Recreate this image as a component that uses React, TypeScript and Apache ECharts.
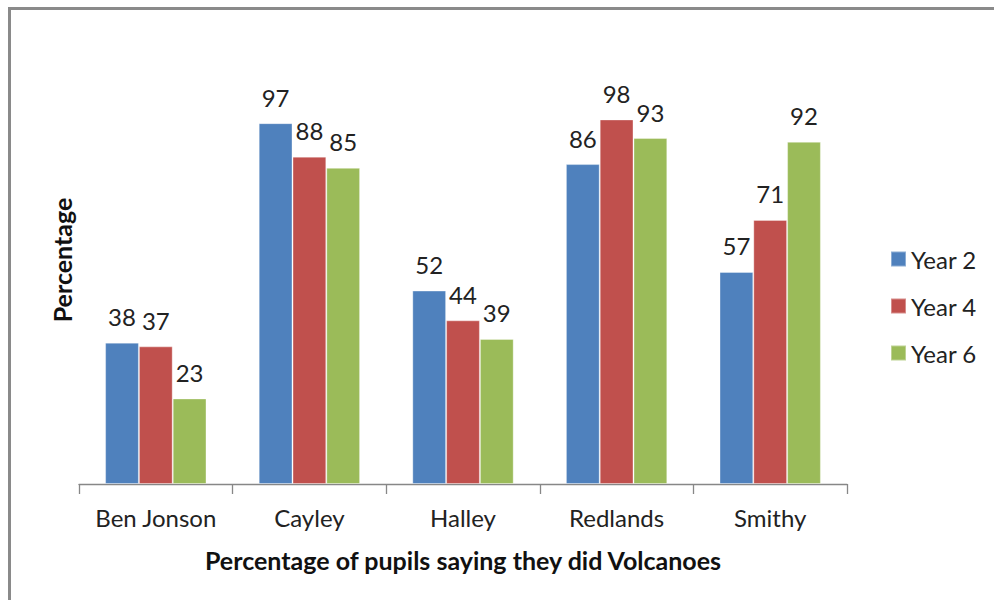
import React, { useEffect, useRef } from "react";
import * as echarts from "echarts";

const categories = ["Ben Jonson", "Cayley", "Halley", "Redlands", "Smithy"];
const seriesNames = ["Year 2", "Year 4", "Year 6"];
const year2 = [38, 97, 52, 86, 57];
const year4 = [37, 88, 44, 98, 71];
const year6 = [23, 85, 39, 93, 92];
const colors = ["#4F81BD", "#C0504D", "#9BBB59"];
const xTitle = "Percentage of pupils saying they did Volcanoes";
const yTitle = "Percentage";

const FONT = "Lato";

export default function App() {
  const ref = useRef<HTMLDivElement>(null);
  useEffect(() => {
    document.body.style.margin = "0";
    const chart = echarts.init(ref.current!, null, { renderer: "svg" });
    const data = [year2, year4, year6];
    chart.setOption({
      animation: false,
      backgroundColor: "#ffffff",
      textStyle: { fontFamily: FONT },
      grid: { left: 79, right: 147, top: 112, bottom: 116 },
      legend: {
        orient: "vertical",
        left: 885,
        top: 242,
        itemWidth: 15,
        itemHeight: 15,
        itemGap: 23,
        icon: "rect",
        data: seriesNames,
        textStyle: { fontSize: 24, color: "#222", fontFamily: FONT },
      },
      xAxis: {
        type: "category",
        data: categories,
        axisLine: { show: true, lineStyle: { color: "#878787", width: 1.3 } },
        axisTick: { show: true, interval: 0, length: 10, lineStyle: { color: "#878787", width: 1.3 } },
        axisLabel: { interval: 0, fontSize: 24, color: "#222", margin: 21, fontFamily: FONT },
        name: xTitle,
        nameLocation: "middle",
        nameGap: 63,
        nameTextStyle: { fontSize: 25, fontWeight: "bold", color: "#111", fontFamily: FONT },
      },
      yAxis: {
        type: "value",
        min: 0,
        max: 100,
        show: false,
        splitLine: { show: false },
      },
      graphic: [
        {
          type: "rect",
          shape: { x: 9.5, y: 8.5, width: 1100, height: 1100 },
          style: { fill: "none", stroke: "#8a8a8a", lineWidth: 3 },
          silent: true,
        },
        {
          type: "text",
          x: 62,
          y: 260,
          rotation: Math.PI / 2,
          style: {
            text: yTitle,
            fontSize: 25,
            fontWeight: "bold",
            fontFamily: FONT,
            fill: "#111",
            align: "center",
            verticalAlign: "middle",
          },
        },
      ],
      series: seriesNames.map((name, i) => ({
        name,
        type: "bar",
        data: data[i],
        barGap: "0%",
        barCategoryGap: "34%",
        itemStyle: { color: colors[i], borderColor: "rgba(255,255,255,0.35)", borderWidth: 1 },
        label: {
          show: true,
          position: "top",
          distance: 14,
          fontSize: 24,
          color: "#222",
          fontFamily: FONT,
        },
      })),
    });
    return () => chart.dispose();
  }, []);
  return <div ref={ref} style={{ width: 994, height: 600 }} />;
}
